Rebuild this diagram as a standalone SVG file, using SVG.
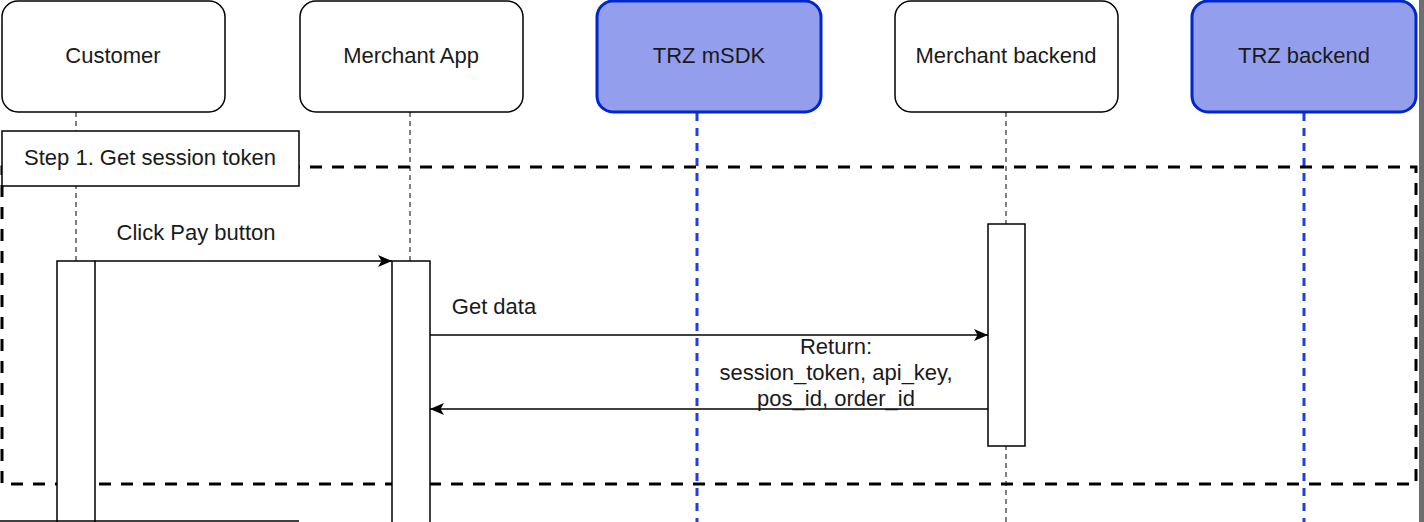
<svg xmlns="http://www.w3.org/2000/svg" width="1424" height="522" viewBox="0 0 1424 522">
<defs>
<style>
.actor{fill:#ffffff;stroke:#000000;stroke-width:1.5}
.trz{fill:#939fec;stroke:#0026cc;stroke-width:3}
.lbl{font-family:"Liberation Sans",Arial,sans-serif;font-size:22px;fill:#1a1a1a;text-anchor:middle}
.life{stroke:#000000;stroke-width:1;stroke-dasharray:5 4;fill:none}
.lifeb{stroke:#1f3fe0;stroke-width:3;stroke-dasharray:8 7;fill:none}
.act{fill:#ffffff;stroke:#000000;stroke-width:1.5}
.msg{stroke:#000000;stroke-width:1.5;fill:none;marker-end:url(#arr)}
</style>
<marker id="arr" viewBox="0 0 14 12" refX="14" refY="6" markerWidth="14" markerHeight="12" markerUnits="userSpaceOnUse" orient="auto">
<path d="M0,0 L14,6 L0,12 L3.5,6 Z" fill="#000000"/>
</marker>
</defs>
<rect x="0" y="0" width="1424" height="522" fill="#ffffff"/>

<g id="lifelines">
<line class="life" x1="76" y1="112" x2="76" y2="522"/>
<line class="life" x1="410" y1="112" x2="410" y2="522"/>
<line class="lifeb" x1="697" y1="113" x2="697" y2="522"/>
<line class="life" x1="1006" y1="112" x2="1006" y2="522"/>
<line class="lifeb" x1="1304" y1="113" x2="1304" y2="522"/>
</g>

<g id="frame">
<rect x="2" y="167" width="1414" height="317" fill="none" stroke="#000000" stroke-width="3" stroke-dasharray="12 10"/>
</g>

<g id="step1">
<rect x="2" y="131" width="297" height="55" fill="#ffffff" stroke="#000000" stroke-width="1.5"/>
<text class="lbl" x="150" y="165">Step 1. Get session token</text>
</g>

<g id="customer">
<rect class="actor" x="2" y="1" width="223" height="111" rx="16"/>
<text class="lbl" x="113" y="63">Customer</text>
</g>
<g id="merchant-app">
<rect class="actor" x="300" y="1" width="223" height="111" rx="16"/>
<text class="lbl" x="411" y="63">Merchant App</text>
</g>
<g id="trz-msdk">
<rect class="trz" x="597" y="1" width="224" height="111" rx="16"/>
<text class="lbl" x="709" y="63">TRZ mSDK</text>
</g>
<g id="merchant-backend">
<rect class="actor" x="895" y="1" width="223" height="111" rx="16"/>
<text class="lbl" x="1006" y="63">Merchant backend</text>
</g>
<g id="trz-backend">
<rect class="trz" x="1192" y="1" width="224" height="111" rx="16"/>
<text class="lbl" x="1304" y="63">TRZ backend</text>
</g>

<g id="activations">
<rect class="act" x="57" y="261" width="38" height="270"/>
<rect class="act" x="392" y="261" width="38" height="270"/>
<rect class="act" x="988" y="224" width="37" height="222"/>
</g>

<g id="connectors">
<line class="msg" x1="95" y1="261" x2="392" y2="261"/>
<line class="msg" x1="430" y1="335" x2="988" y2="335"/>
<line class="msg" x1="988" y1="409" x2="430" y2="409"/>
</g>

<g id="labels">
<text class="lbl" x="196" y="240">Click Pay button</text>
<text class="lbl" x="494" y="314">Get data</text>
<text class="lbl" x="836" y="354">Return:</text>
<text class="lbl" x="836" y="380">session_token, api_key,</text>
<text class="lbl" x="836" y="406">pos_id, order_id</text>
</g>

<g id="next-step">
<line x1="0" y1="521" x2="299" y2="521" stroke="#000000" stroke-width="1.5"/>
</g>

<rect x="1419" y="0" width="5" height="522" fill="#6e6e6e"/>
</svg>
